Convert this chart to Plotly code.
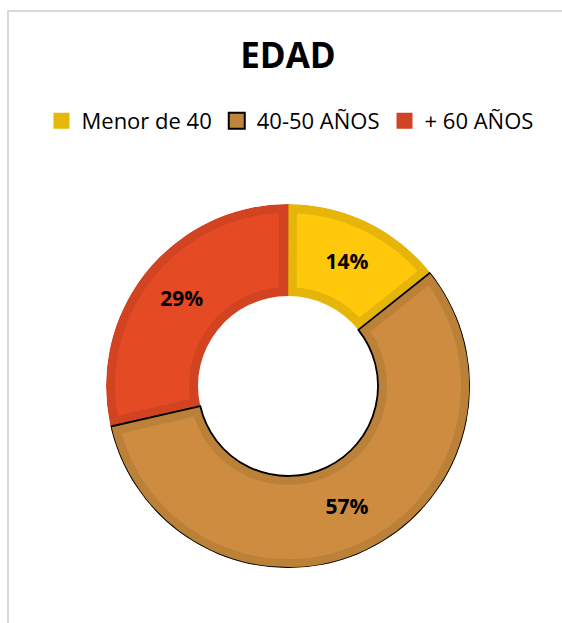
import math
import plotly.graph_objects as go

# ---------------- data ----------------
categories = ["Menor de 40", "40-50 AÑOS", "+ 60 AÑOS"]
values = [1, 4, 2]
fill_colors = ["#FFC80A", "#CD8C40", "#E44A23"]
border_colors = ["#E6B50A", "#BC8139", "#D24322"]
legend_colors = ["#E6B80A", "#C0843A", "#D24325"]
outline_widths = [0, 1.8, 0]

W, H = 562, 623
CX, CY = 288, 386          # donut centre (px)
R_OUT, R_IN = 182, 90      # radii (px)
BORDER = 9                 # inner border band (px)

total = sum(values)
spans = [360.0 * v / total for v in values]
centers = []
acc = 0.0
for s in spans:
    centers.append(acc + s / 2)
    acc += s
labels = [f"{round(100 * v / total)}%" for v in values]

fig = go.Figure()

# darker border band (full slice)
fig.add_trace(go.Barpolar(
    theta=centers, width=[s + 0.3 for s in spans],
    base=[R_IN] * len(values), r=[R_OUT - R_IN] * len(values),
    marker=dict(color=border_colors, line=dict(width=0)),
    showlegend=False, hoverinfo="skip"))

# inner fill, inset by a constant pixel border (built from thin rings)
n_rings = 10
r0, r1 = R_IN + BORDER, R_OUT - BORDER
step = (r1 - r0) / n_rings
th, wd, bs, rr, cc = [], [], [], [], []
for k in range(n_rings):
    lo = r0 + k * step
    hi = lo + step
    mid = (lo + hi) / 2
    d = math.degrees(math.asin(BORDER / mid))
    for i in range(len(values)):
        th.append(centers[i])
        wd.append(spans[i] - 2 * d)
        bs.append(lo)
        rr.append(step + (0.8 if k < n_rings - 1 else 0))
        cc.append(fill_colors[i])
fig.add_trace(go.Barpolar(
    theta=th, width=wd, base=bs, r=rr,
    marker=dict(color=cc, line=dict(width=0)),
    showlegend=False, hoverinfo="skip"))

# black outline (40-50 slice)
fig.add_trace(go.Barpolar(
    theta=centers, width=spans,
    base=[R_IN] * len(values), r=[R_OUT - R_IN] * len(values),
    marker=dict(color="rgba(0,0,0,0)",
                line=dict(color="black", width=outline_widths)),
    showlegend=False, hoverinfo="skip"))

# percentage labels
fig.add_trace(go.Scatterpolar(
    r=[(R_IN + R_OUT) / 2] * len(values), theta=centers,
    mode="text", text=labels,
    textfont=dict(family="Open Sans", size=21, color="black", weight="bold"),
    showlegend=False, hoverinfo="skip"))

# legend entries
for i, cat in enumerate(categories):
    fig.add_trace(go.Scatterpolar(
        r=[None], theta=[None], mode="markers", name=cat,
        marker=dict(symbol="square", size=16, color=legend_colors[i],
                    line=dict(color="black", width=2 if outline_widths[i] else 0))))

fig.update_layout(
    width=W, height=H,
    margin=dict(l=0, r=0, t=0, b=0),
    paper_bgcolor="white",
    font=dict(family="Open Sans", color="black"),
    title=dict(text="EDAD", x=CX / W, xanchor="center",
               y=1 - 56 / H, yanchor="middle",
               font=dict(family="Open Sans", size=35, color="black", weight="bold")),
    legend=dict(orientation="h", x=0.516, xanchor="center",
                y=1 - 121 / H, yanchor="middle",
                font=dict(family="Open Sans", size=22, color="black"),
                bgcolor="rgba(0,0,0,0)", itemclick=False, itemdoubleclick=False),
    polar=dict(
        domain=dict(x=[(CX - R_OUT) / W, (CX + R_OUT) / W],
                    y=[1 - (CY + R_OUT) / H, 1 - (CY - R_OUT) / H]),
        bgcolor="white", hole=0, barmode="overlay",
        angularaxis=dict(visible=False, rotation=90, direction="clockwise",
                         showgrid=False, showline=False),
        radialaxis=dict(visible=False, range=[0, R_OUT], showgrid=False,
                        showline=False),
    ),
    shapes=[dict(type="rect", xref="paper", yref="paper",
                 x0=8 / W, x1=1.05, y0=-0.05, y1=1 - 11 / H,
                 line=dict(color="#D9D9D9", width=2), fillcolor="rgba(0,0,0,0)",
                 layer="below")],
)

fig.write_html("out.html", config={"displayModeBar": False},
               post_script="document.body.style.margin='0';document.body.style.overflow='hidden';")
